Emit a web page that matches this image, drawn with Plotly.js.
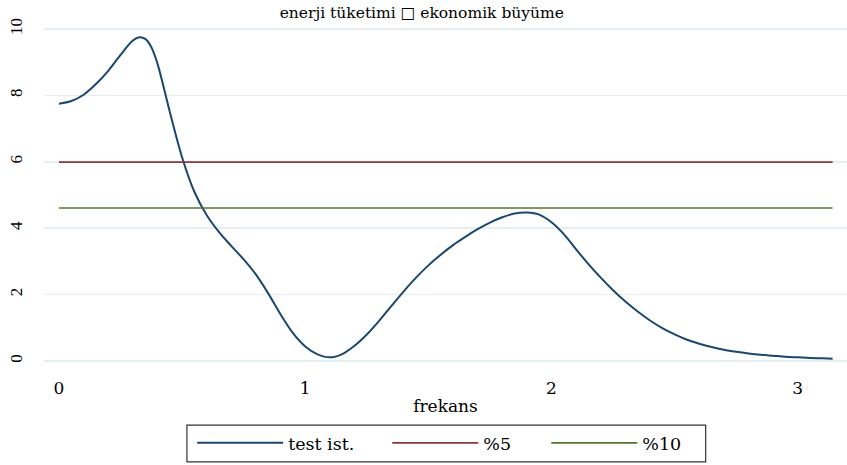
<!DOCTYPE html>
<html>
<head>
<meta charset="utf-8">
<script src="https://cdn.plot.ly/plotly-3.0.1.min.js"></script>
<style>html,body{margin:0;padding:0;background:#fff;}#chart{width:847px;height:465px;}</style>
</head>
<body>
<div id="chart"></div>
<script>
var frekans = [0.00, 0.05, 0.10, 0.15, 0.20, 0.25, 0.30, 0.325, 0.35, 0.375, 0.40, 0.45, 0.50, 0.55, 0.60, 0.65, 0.70, 0.75, 0.80, 0.85, 0.90, 0.95, 1.00, 1.05, 1.10, 1.15, 1.20, 1.25, 1.30, 1.35, 1.40, 1.45, 1.50, 1.55, 1.60, 1.65, 1.70, 1.75, 1.80, 1.85, 1.90, 1.95, 2.00, 2.05, 2.10, 2.15, 2.20, 2.25, 2.30, 2.35, 2.40, 2.45, 2.50, 2.55, 2.60, 2.65, 2.70, 2.75, 2.80, 2.85, 2.90, 2.95, 3.00, 3.05, 3.10, 3.1416];
var testIst = [7.75, 7.83, 8.02, 8.34, 8.74, 9.22, 9.65, 9.75, 9.70, 9.45, 8.95, 7.50, 6.13, 5.09, 4.39, 3.88, 3.46, 3.06, 2.60, 2.03, 1.40, 0.84, 0.44, 0.20, 0.11, 0.21, 0.46, 0.80, 1.21, 1.66, 2.10, 2.51, 2.88, 3.20, 3.49, 3.74, 3.97, 4.17, 4.33, 4.44, 4.47, 4.41, 4.18, 3.82, 3.36, 2.92, 2.51, 2.13, 1.79, 1.49, 1.22, 0.99, 0.80, 0.64, 0.52, 0.42, 0.34, 0.28, 0.23, 0.19, 0.16, 0.13, 0.11, 0.09, 0.08, 0.07];
var kritik5 = 5.99;
var kritik10 = 4.61;
var xRange = [0, 3.1416];
var seriesNames = ["test ist.", "%5", "%10"];
var titleText = "enerji tüketimi \u25A1 ekonomik büyüme";
var xTitle = "frekans";
var yTicks = [0, 2, 4, 6, 8, 10];
var xTicks = [0, 1, 2, 3];

var serif = "DejaVu Serif";
var legendFont = {family: serif, size: 17.5, color: "#000"};
var data = [
  {x: frekans, y: testIst, mode: "lines", name: seriesNames[0], legend: "legend", line: {color: "#1a476f", width: 2, shape: "spline", smoothing: 1}},
  {x: xRange, y: [kritik5, kritik5], mode: "lines", name: seriesNames[1], legend: "legend2", line: {color: "#90353b", width: 1.6}},
  {x: xRange, y: [kritik10, kritik10], mode: "lines", name: seriesNames[2], legend: "legend3", line: {color: "#55752f", width: 1.6}}
];
function leg(xp) {
  return {orientation: "h", x: xp, xanchor: "left", y: -0.2155, yanchor: "middle", borderwidth: 0,
          bgcolor: "rgba(0,0,0,0)", font: legendFont, itemwidth: 86};
}
var layout = {
  width: 847, height: 465,
  margin: {l: 44, r: 0, t: 20, b: 97},
  paper_bgcolor: "#fff", plot_bgcolor: "#fff",
  font: {family: serif, color: "#000", size: 17},
  title: {text: titleText, font: {family: serif, size: 15.5, color: "#000"}, x: 0.498, xanchor: "center", y: 0.985, yanchor: "top"},
  xaxis: {range: [-0.061, 3.2], tickvals: xTicks, ticks: "", showgrid: false, zeroline: false, showline: false,
          ticklabelstandoff: 8,
          tickfont: {family: serif, size: 17}, title: {text: xTitle, font: {family: serif, size: 17}, standoff: 3}},
  yaxis: {range: [-0.21, 10.27], tickvals: yTicks, tickangle: -90, ticks: "", showgrid: true, gridcolor: "#e6eff0", gridwidth: 1.5,
          zeroline: false, showline: false, ticklabelstandoff: 18,
          tickfont: {family: "Liberation Serif", size: 17}},
  showlegend: true,
  legend: leg(0.1845),
  legend2: leg(0.4275),
  legend3: leg(0.6255),
  shapes: [{type: "rect", xref: "paper", yref: "paper", x0: 0.178, x1: 0.824, y0: -0.164, y1: -0.270,
            line: {color: "#333", width: 1.2}, fillcolor: "rgba(0,0,0,0)", layer: "below"}]
};
Plotly.newPlot("chart", data, layout, {displayModeBar: false, staticPlot: true});
</script>
</body>
</html>
